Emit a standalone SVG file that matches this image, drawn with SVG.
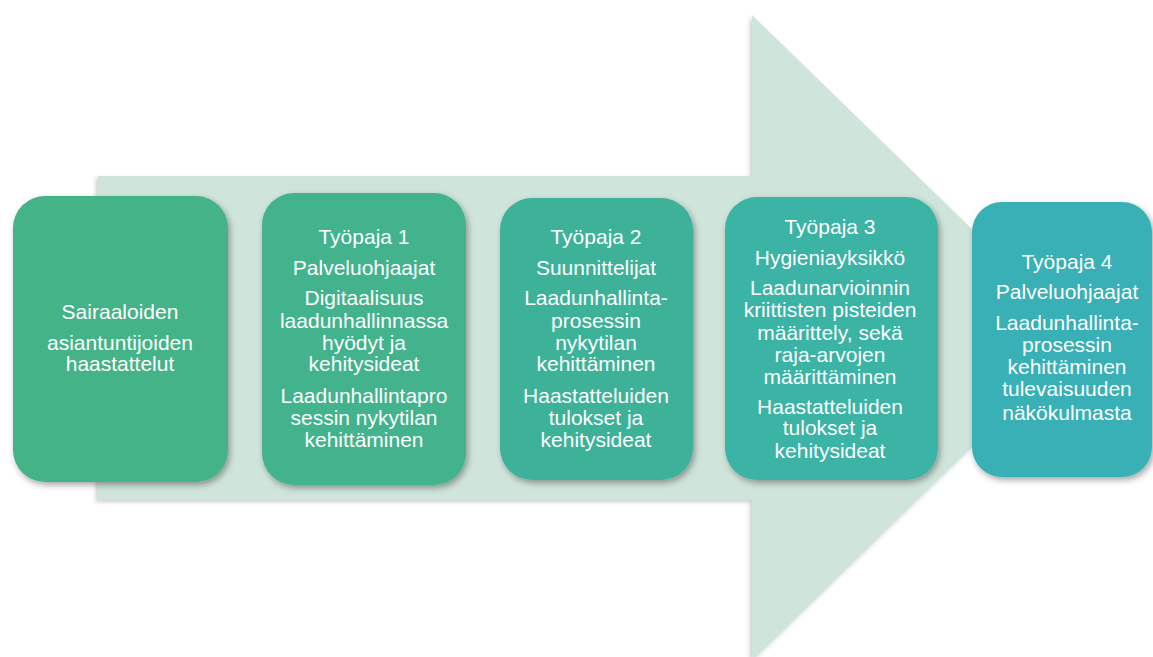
<svg xmlns="http://www.w3.org/2000/svg" width="1153" height="657" viewBox="0 0 1153 657">
<defs>
<filter id="sh" x="-10%" y="-10%" width="125%" height="125%">
<feDropShadow dx="2" dy="3" stdDeviation="3" flood-color="#000" flood-opacity="0.35"/>
</filter>
<filter id="sha" x="-5%" y="-5%" width="110%" height="110%">
<feDropShadow dx="-2" dy="2" stdDeviation="2" flood-color="#000" flood-opacity="0.2"/>
</filter>
</defs>
<style>
text{font-family:"Liberation Sans",Arial,sans-serif;font-size:21px;fill:#fff;text-anchor:middle}
.box{filter:url(#sh)}
</style>
<rect width="1153" height="657" fill="#fff"/>
<g id="arrow">
<polygon points="98,176 752,176 752,15 1084,338 752,661 752,500 98,500" fill="#CFE4DA" filter="url(#sha)"/>
</g>
<g id="connectors"></g>
<g id="n0">
<rect class="box" x="13" y="196" width="215" height="286" rx="32" fill="#44B388"/>
<text x="120" y="319">Sairaaloiden</text>
<text x="120" y="350">asiantuntijoiden</text>
<text x="120" y="371">haastattelut</text>
</g>
<g id="n1">
<rect class="box" x="262" y="193" width="204" height="292" rx="32" fill="#42B38D"/>
<text x="364" y="244">Työpaja 1</text>
<text x="364" y="275">Palveluohjaajat</text>
<text x="364" y="305">Digitaalisuus</text>
<text x="364" y="328">laadunhallinnassa</text>
<text x="364" y="350">hyödyt ja</text>
<text x="364" y="371">kehitysideat</text>
<text x="364" y="403">Laadunhallintapro</text>
<text x="364" y="425">sessin nykytilan</text>
<text x="364" y="447">kehittäminen</text>
</g>
<g id="n2">
<rect class="box" x="500" y="198" width="193" height="282" rx="32" fill="#3DB299"/>
<text x="596" y="244">Työpaja 2</text>
<text x="596" y="275">Suunnittelijat</text>
<text x="596" y="305">Laadunhallinta-</text>
<text x="596" y="328">prosessin</text>
<text x="596" y="350">nykytilan</text>
<text x="596" y="371">kehittäminen</text>
<text x="596" y="403">Haastatteluiden</text>
<text x="596" y="425">tulokset ja</text>
<text x="596" y="447">kehitysideat</text>
</g>
<g id="n3">
<rect class="box" x="725" y="197" width="213" height="283" rx="32" fill="#3BB3A5"/>
<text x="830" y="234">Työpaja 3</text>
<text x="830" y="265">Hygieniayksikkö</text>
<text x="830" y="295">Laadunarvioinnin</text>
<text x="830" y="317">kriittisten pisteiden</text>
<text x="830" y="340">määrittely, sekä</text>
<text x="830" y="362">raja-arvojen</text>
<text x="830" y="384">määrittäminen</text>
<text x="830" y="414">Haastatteluiden</text>
<text x="830" y="435">tulokset ja</text>
<text x="830" y="458">kehitysideat</text>
</g>
<g id="n4">
<rect class="box" x="972" y="202" width="180" height="275" rx="30" fill="#38B0B5"/>
<text x="1067" y="269">Työpaja 4</text>
<text x="1067" y="299">Palveluohjaajat</text>
<text x="1067" y="330">Laadunhallinta-</text>
<text x="1067" y="352">prosessin</text>
<text x="1067" y="374">kehittäminen</text>
<text x="1067" y="396">tulevaisuuden</text>
<text x="1067" y="420">näkökulmasta</text>
</g>
</svg>
